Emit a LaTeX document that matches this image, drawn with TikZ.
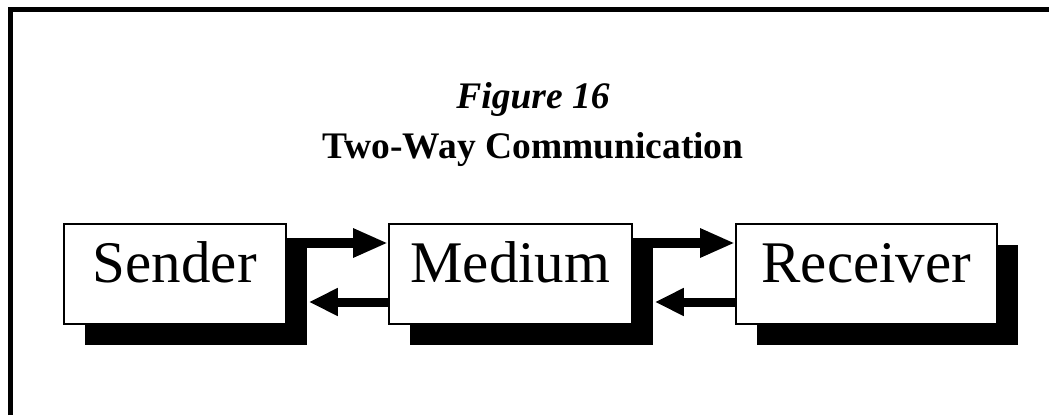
\documentclass[tikz,border=0pt]{standalone}
\usepackage{fontspec}
\setmainfont{Liberation Serif}
\usetikzlibrary{arrows.meta,shadows}

\begin{document}
\begin{tikzpicture}[x=1pt,y=-1pt,
  unit/.style={draw,fill=white,line width=1.8pt,inner sep=0pt,anchor=north west,
    minimum width=#1,text height=59pt,text depth=41pt,
    font=\fontsize{59}{62}\selectfont,
    general shadow={fill=black,shadow xshift=21pt,shadow yshift=-21pt}},
  fwd/.style={line width=10pt,-{Triangle[length=35pt,width=27pt]}},
  back/.style={line width=9pt,-{Triangle[length=29pt,width=26pt]}}]
\useasboundingbox (0,0) rectangle (1049,415);
% frame
\draw[line width=5pt] (10.5,415) -- (10.5,9.5) -- (1049,9.5);
% title
\node[anchor=base,font=\fontsize{37.5}{42}\selectfont\bfseries\itshape] (fig) at (533,108) {Figure 16};
\node[anchor=base,font=\fontsize{37.5}{42}\selectfont\bfseries] (title) at (533,158) {Two-Way Communication};
% boxes
\node[unit=222pt] (sender) at (63,223) {Sender};
\node[unit=243pt] (medium) at (388,223) {Medium};
\node[unit=261pt] (receiver) at (735,223) {Receiver};
% arrows
\draw[fwd] ([yshift=-20pt]sender.north east) -- ([yshift=-20pt]medium.north west);
\draw[back] ([yshift=-79pt]medium.north west) -- ([xshift=22pt,yshift=-79pt]sender.north east);
\draw[fwd] ([yshift=-20pt]medium.north east) -- ([yshift=-20pt]receiver.north west);
\draw[back] ([yshift=-79pt]receiver.north west) -- ([xshift=22pt,yshift=-79pt]medium.north east);
\end{tikzpicture}
\end{document}
